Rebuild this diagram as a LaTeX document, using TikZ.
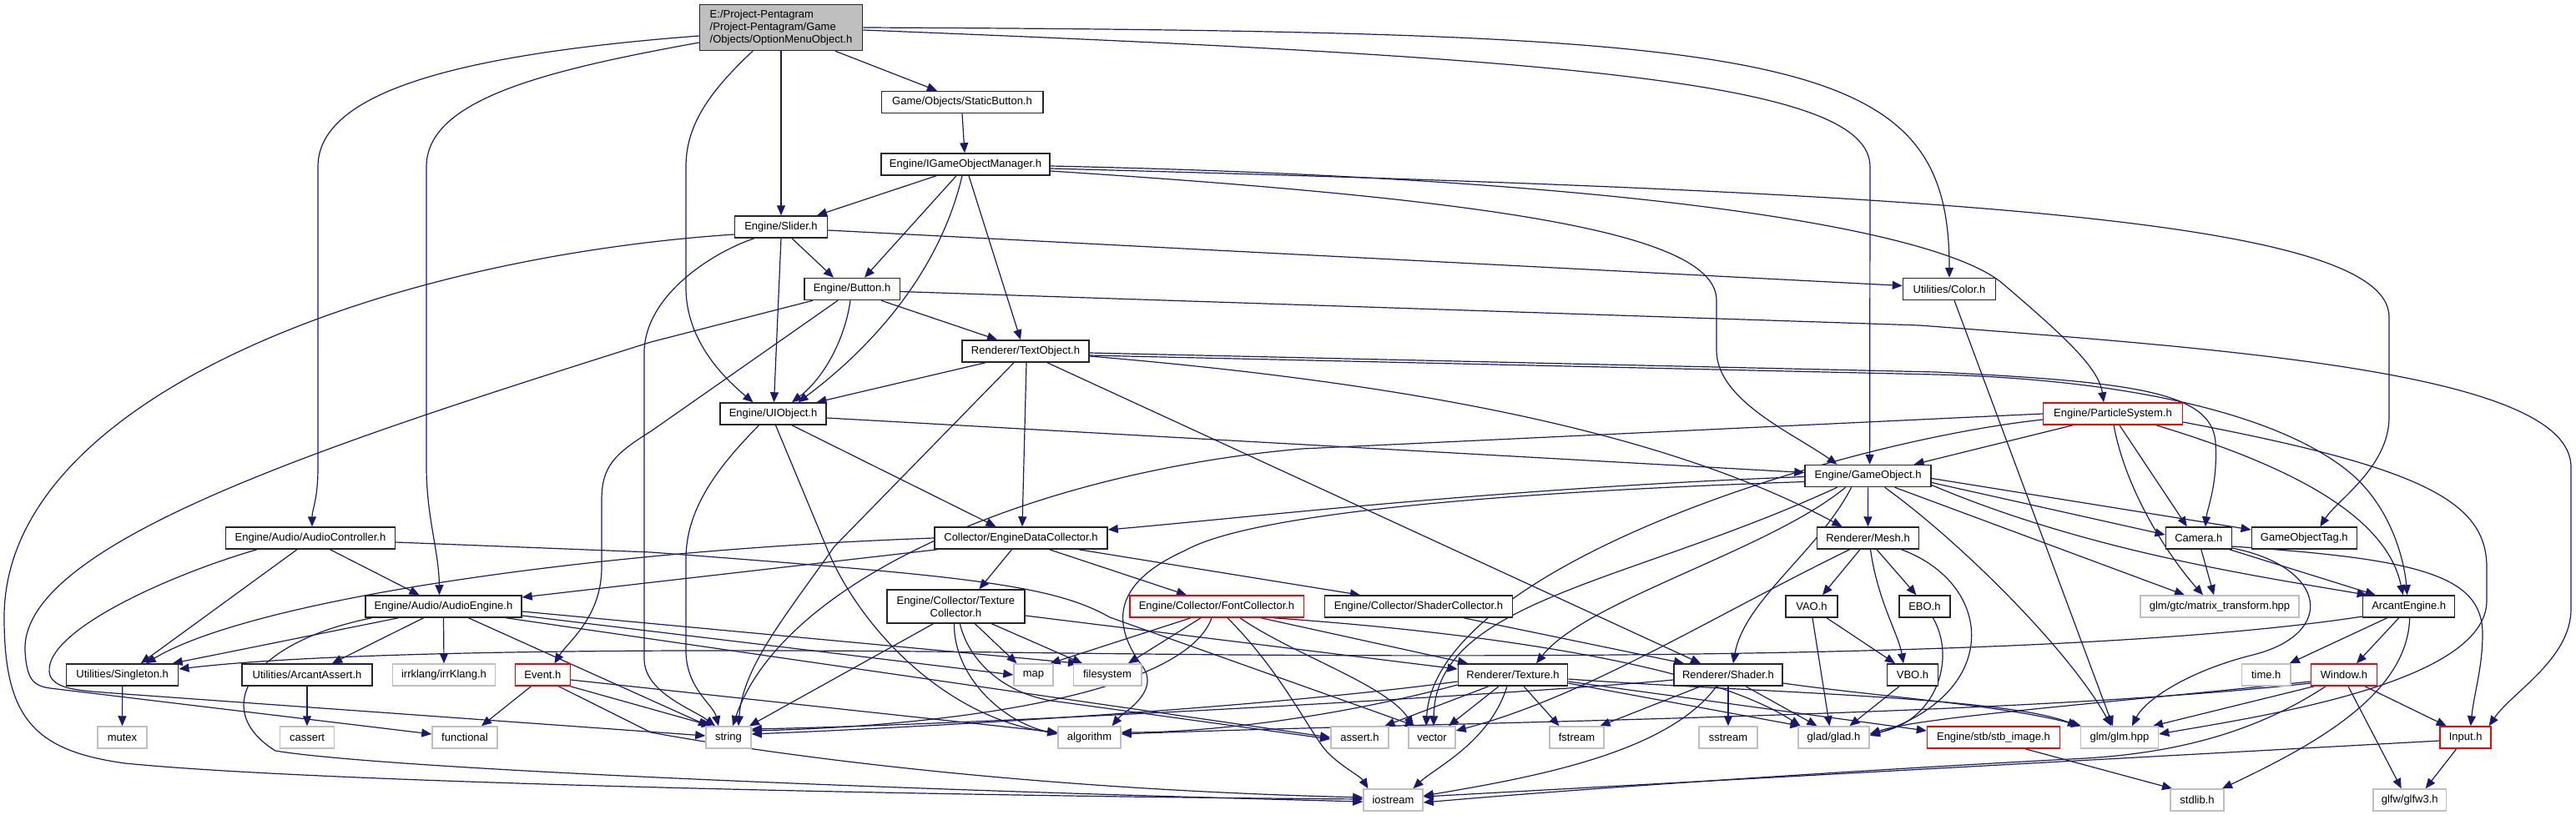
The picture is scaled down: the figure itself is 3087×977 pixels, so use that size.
\documentclass[tikz,border=0pt]{standalone}
\usepackage{fontspec}
\setmainfont{Liberation Sans}
\usetikzlibrary{arrows.meta}
\definecolor{ecol}{HTML}{191970}
\definecolor{gline}{HTML}{BFBFBF}
\definecolor{rootgray}{HTML}{BFBFBF}
\newcommand{\nfont}{\fontsize{13}{14.7}\selectfont}
\pgfdeclarelayer{back}
\pgfdeclarelayer{bg}
\pgfsetlayers{back,bg,main}
\tikzset{
  nb/.style={draw=black!85, line width=1.5pt, fill=white, minimum height=26pt, inner xsep=10pt, inner ysep=0pt, font=\nfont, text=black},
  gb/.style={nb, draw=gline},
  rb/.style={nb, draw=red},
  e/.style={draw=ecol, line width=1.2pt, -{Triangle[length=12pt,width=10pt]}},
}
\begin{document}
\begin{tikzpicture}[x=1pt,y=-1pt]
\begin{pgfonlayer}{back}
\fill[white] (0,0) rectangle (3087,977);
\end{pgfonlayer}
\useasboundingbox (0,0) rectangle (3087,977);
% nodes
\node[nb, fill=rootgray, align=left, minimum width=195, minimum height=55] (R) at (936,33) {E:/Project-Pentagram\\/Project-Pentagram/Game\\/Objects/OptionMenuObject.h};
\node[nb, minimum width=193.5] (SB) at (1153,122.5) {Game/Objects/StaticButton.h};
\node[nb, minimum width=202] (IGOM) at (1157,197) {Engine/IGameObjectManager.h};
\node[nb, minimum width=111] (SL) at (936,272) {Engine/Slider.h};
\node[nb, minimum width=114.5] (BT) at (1021,346.5) {Engine/Button.h};
\node[nb, minimum width=152] (TO) at (1229,421) {Renderer/TextObject.h};
\node[nb, minimum width=127] (UI) at (926.5,496) {Engine/UIObject.h};
\node[nb, minimum width=207] (EDC) at (1223.5,645) {Collector/EngineDataCollector.h};
\node[nb, minimum width=203] (AC) at (372,645) {Engine/Audio/AudioController.h};
\node[nb, minimum width=187] (AE) at (531.5,727) {Engine/Audio/AudioEngine.h};
\node[nb, minimum width=134] (SG) at (146.7,809) {Utilities/Singleton.h};
\node[nb, minimum width=156] (AA) at (368,809) {Utilities/ArcantAssert.h};
\node[gb, minimum width=123] (IK) at (532,809) {irrklang/irrKlang.h};
\node[rb, minimum width=66] (EV) at (650.4,809) {Event.h};
\node[gb, minimum width=59] (MU) at (146.5,884) {mutex};
\node[gb, minimum width=65] (CA) at (368,884) {cassert};
\node[gb, minimum width=78] (FN) at (557,884) {functional};
\node[nb, align=center, minimum width=165, minimum height=40] (TC) at (1145.4,727) {Engine/Collector/Texture\\Collector.h};
\node[rb, minimum width=208.5] (FC) at (1458,727) {Engine/Collector/FontCollector.h};
\node[gb, minimum width=47] (MP) at (1238.5,809) {map};
\node[gb, minimum width=81.5] (FS) at (1327,809) {filesystem};
\node[gb, minimum width=54] (ST) at (873,884) {string};
\node[gb, minimum width=75] (AL) at (1305.5,884) {algorithm};
\node[nb, minimum width=225] (SC) at (1700,727) {Engine/Collector/ShaderCollector.h};
\node[nb, minimum width=131] (TX) at (1813,809) {Renderer/Texture.h};
\node[nb, minimum width=130] (SH) at (2071,809) {Renderer/Shader.h};
\node[nb, minimum width=62] (VAO) at (2171,727) {VAO.h};
\node[nb, minimum width=61] (EBO) at (2306.4,727) {EBO.h};
\node[nb, minimum width=61] (VBO) at (2292,809) {VBO.h};
\node[gb, minimum width=69] (AS) at (1629.4,884) {assert.h};
\node[gb, minimum width=56] (VC) at (1716,884) {vector};
\node[gb, minimum width=65] (FST) at (1889.5,884) {fstream};
\node[gb, minimum width=70] (SST) at (2071,884) {sstream};
\node[gb, minimum width=85] (GL) at (2197.5,884) {glad/glad.h};
\node[rb, minimum width=159] (STB) at (2389,884) {Engine/stb/stb\_image.h};
\node[gb, minimum width=71] (IO) at (1669.5,959) {iostream};
\node[gb, minimum width=190] (MT) at (2660,727) {glm/gtc/matrix\_transform.hpp};
\node[nb, minimum width=110] (AEN) at (2886.7,727) {ArcantEngine.h};
\node[gb, minimum width=58.6] (TM) at (2715.7,809) {time.h};
\node[rb, minimum width=79] (WN) at (2809,809) {Window.h};
\node[gb, minimum width=93] (GLM) at (2540,884) {glm/glm.hpp};
\node[rb, minimum width=61] (IN) at (2954.7,884) {Input.h};
\node[gb, minimum width=64] (SL2) at (2633,959) {stdlib.h};
\node[gb, minimum width=87.5] (GF) at (2887.7,959) {glfw/glfw3.h};
\node[nb, minimum width=111] (CO) at (2336,346.5) {Utilities/Color.h};
\node[rb, minimum width=167] (PS) at (2532,496) {Engine/ParticleSystem.h};
\node[nb, minimum width=79] (CM) at (2634.8,645) {Camera.h};
\node[nb, minimum width=126] (GT) at (2761.3,645) {GameObjectTag.h};
\node[nb, minimum width=151] (GO) at (2238.6,570.5) {Engine/GameObject.h};
\node[nb, minimum width=122] (ME) at (2238.5,645) {Renderer/Mesh.h};
\begin{pgfonlayer}{bg}
% root
\draw[e] ([xshift=65]R.south) -- ([xshift=-30]SB.north);
\draw[e] (R.south) -- (SL.north);
\draw[e] ([xshift=-34]R.south) .. controls (850,110) and (822,150) .. (822,200) -- (822,345) .. controls (822,410) and (870,455) .. ([xshift=-24]UI.north);
\draw[e] ([yshift=-10]R.west) .. controls (550,65) and (381,110) .. (381,200) -- (381,560) .. controls (381,600) and (374,610) .. ([xshift=2]AC.north);
\draw[e] ([yshift=-18]R.west) .. controls (650,85) and (511,120) .. (511,200) -- (511,560) .. controls (511,620) and (526,660) .. ([xshift=-5]AE.north);
\draw[e] ([yshift=-3]R.east) .. controls (1900,70) and (2241,100) .. (2241,200) -- ([xshift=2]GO.north);
\draw[e] (R.east) .. controls (2150,38) and (2336,60) .. (CO.north);
% static button
\draw[e] (SB.south) -- ([xshift=-1]IGOM.north);
% IGameObjectManager
\draw[e] ([xshift=-35]IGOM.south) -- ([xshift=43]SL.north);
\draw[e] ([xshift=-11]IGOM.south) -- ([xshift=15]BT.north);
\draw[e] ([xshift=-4]IGOM.south) .. controls (1125,330) and (1040,420) .. ([xshift=30]UI.north);
\draw[e] ([xshift=4]IGOM.south) -- ([xshift=-6]TO.north);
\draw[e] ([yshift=-2]IGOM.east) .. controls (2000,215) and (2330,280) .. (2400,340) .. controls (2470,400) and (2515,440) .. ([xshift=-11]PS.north);
\draw[e] ([yshift=-5]IGOM.east) .. controls (2300,230) and (2863,260) .. (2863,380) -- (2863,500) .. controls (2863,560) and (2800,600) .. ([xshift=19]GT.north);
\draw[e] ([yshift=-8]IGOM.east) .. controls (1800,240) and (2057,280) .. (2057,360) -- (2057,420) .. controls (2057,480) and (2150,520) .. ([xshift=-37]GO.north);
% Slider
\draw[e] ([xshift=13]SL.south) -- ([xshift=-22]BT.north);
\draw[e] (SL.south) -- ([xshift=1]UI.north);
\draw[e] ([xshift=-32]SL.south) .. controls (860,300) and (775,350) .. (772,420) -- (772,790) .. controls (772,830) and (830,850) .. ([xshift=-16]ST.north);
\draw[e] ([yshift=-9]SL.west) .. controls (450,310) and (5,480) .. (5,740) .. controls (5,860) and (40,900) .. (150,915) .. controls (400,940) and (1200,955) .. ([yshift=1]IO.west);
\draw[e] ([yshift=-4]SL.east) -- ([yshift=4]CO.west);
% Button
\draw[e] ([xshift=35]BT.south) -- ([xshift=-34]TO.north);
\draw[e] ([xshift=-2]BT.south) .. controls (1012,410) and (985,455) .. ([xshift=22.5]UI.north);
\draw[e] ([xshift=-17]BT.south) -- (780,517) .. controls (735,545) and (721,560) .. (721,600) -- (721,680) .. controls (721,740) and (680,770) .. ([xshift=14]EV.north);
\draw[e] ([xshift=-47]BT.south) -- (780,410) .. controls (400,530) and (25,650) .. (30,780) .. controls (32,815) and (40,822) .. (60,825) -- ([yshift=4]FN.west);
\draw[e] ([yshift=-3]BT.east) -- (2300,390) .. controls (2700,420) and (3081,450) .. (3081,560) -- (3081,730) .. controls (3081,790) and (3010,830) .. ([xshift=28]IN.north);
% TextObject
\draw[e] ([xshift=-48]TO.south) -- ([xshift=52]UI.north);
\draw[e] ([xshift=-14]TO.south) -- (1000,655) .. controls (940,740) and (890,800) .. ([xshift=12]ST.north);
\draw[e] ([xshift=1]TO.south) -- ([xshift=1.5]EDC.north);
\draw[e] ([xshift=26]TO.south) -- ([xshift=-33]SH.north);
\draw[e] ([yshift=-2]TO.east) -- (2320,446) .. controls (2560,458) and (2650,470) .. (2655,530) .. controls (2658,580) and (2645,610) .. ([xshift=8]CM.north);
\draw[e] ([yshift=-5]TO.east) -- (2320,449) .. controls (2560,455) and (2740,500) .. (2820,570) .. controls (2870,615) and (2882,680) .. ([xshift=-2]AEN.north);
\draw[e] ([yshift=-6]TO.east) .. controls (1700,460) and (2000,520) .. ([xshift=-31]ME.north);
% UIObject
\draw[e] ([yshift=-5]UI.east) -- ([yshift=4]GO.west);
\draw[e] ([xshift=22.5]UI.south) -- ([xshift=-30]EDC.north);
\draw[e] ([xshift=-17]UI.south) .. controls (860,560) and (822,610) .. (822,670) -- (822,780) .. controls (822,825) and (855,845) .. ([xshift=-12]ST.north);
\draw[e] ([xshift=3]UI.south) -- (992,660) .. controls (1030,750) and (1130,860) .. ([yshift=5]AL.west);
% EngineDataCollector
\draw[e] (EDC.west) .. controls (700,660) and (300,720) .. ([xshift=28]SG.north);
\draw[e] ([xshift=-100]EDC.south) -- ([yshift=11]AE.east);
\draw[e] ([xshift=-11]EDC.south) -- ([xshift=28]TC.north);
\draw[e] ([xshift=34]EDC.south) -- ([xshift=-36]FC.north);
\draw[e] ([xshift=69]EDC.south) -- ([xshift=-70]SC.north);
% AudioController
\draw[e] ([xshift=23.5]AC.south) -- ([xshift=-29]AE.north);
\draw[e] ([xshift=-16]AC.south) -- ([xshift=22]SG.north);
\draw[e] ([xshift=-64]AC.south) .. controls (200,690) and (45,760) .. (60,810) .. controls (68,828) and (100,828) .. (150,832) -- ([yshift=2]ST.west);
\draw[e] ([yshift=-5]AC.east) -- (780,662) .. controls (1150,690) and (1260,700) .. (1330,740) -- ([xshift=-20]VC.north);
% AudioEngine
\draw[e] ([xshift=-54]AE.south) -- ([xshift=60]SG.north);
\draw[e] ([xshift=-86]AE.south) .. controls (300,770) and (250,850) .. (330,900) .. controls (450,920) and (1000,945) .. ([yshift=-2]IO.west);
\draw[e] ([xshift=-24]AE.south) -- ([xshift=30]AA.north);
\draw[e] (AE.south) -- (IK.north);
\draw[e] ([xshift=30]AE.south) -- ([xshift=-24]ST.north);
\draw[e] ([yshift=-6]AE.east) -- ([xshift=-35]FS.north);
\draw[e] ([yshift=-11]AE.east) -- (MP.west);
\draw[e] ([xshift=75]AE.south) -- (AS.west);
% Singleton / ArcantAssert
\draw[e] (SG.south) -- (MU.north);
\draw[e] (AA.south) -- (CA.north);
% Event
\draw[e] ([xshift=-14]EV.south) -- ([xshift=20]FN.north);
\draw[e] ([yshift=-6]EV.east) -- ([yshift=6]AL.west);
\draw[e] ([xshift=33]EV.south) -- ([xshift=-20]ST.north);
\draw[e] ([xshift=19]EV.south) -- (780,878) .. controls (900,900) and (1200,945) .. ([yshift=3]IO.west);
% TextureCollector
\draw[e] ([xshift=-27]TC.south) -- ([xshift=25]ST.north);
\draw[e] ([xshift=-2]TC.south) .. controls (1143,810) and (1200,865) .. ([yshift=4]AL.west);
\draw[e] ([xshift=5]TC.south) .. controls (1160,790) and (1200,830) .. (1260,840) -- ([yshift=-2]AS.west);
\draw[e] ([xshift=23]TC.south) -- ([xshift=-20]MP.north);
\draw[e] ([xshift=43]TC.south) -- ([xshift=-30]FS.north);
\draw[e] ([yshift=-11]TC.east) -- ([yshift=7]TX.west);
% FontCollector
\draw[e] ([xshift=-31]FC.south) -- ([xshift=20]MP.north);
\draw[e] ([xshift=-19]FC.south) -- ([xshift=25]FS.north);
\draw[e] ([xshift=-6]FC.south) .. controls (1420,830) and (1150,870) .. ([yshift=8]ST.east);
\draw[e] ([xshift=13]FC.south) .. controls (1530,800) and (1560,860) .. (1585,895) .. controls (1600,915) and (1630,930) .. ([xshift=-30]IO.north);
\draw[e] ([xshift=28]FC.south) .. controls (1550,785) and (1660,820) .. ([xshift=-22]VC.north);
\draw[e] ([xshift=53]FC.south) -- ([xshift=-54]TX.north);
\draw[e] ([xshift=68]FC.south) .. controls (1800,760) and (2050,800) .. ([xshift=-40]GL.north);
% ShaderCollector
\draw[e] ([xshift=54]SC.south) -- ([xshift=-53]SH.north);
% Texture
\draw[e] ([xshift=-29]TX.south) -- ([xshift=30]AS.north);
\draw[e] ([xshift=-17]TX.south) -- ([xshift=20]VC.north);
\draw[e] ([xshift=-7]TX.south) .. controls (1785,890) and (1720,920) .. ([xshift=24]IO.north);
\draw[e] ([xshift=13]TX.south) -- ([xshift=-21]FST.north);
\draw[e] ([yshift=-10]TX.east) -- ([xshift=-40]GL.north);
\draw[e] ([yshift=-8]TX.east) -- ([yshift=8]STB.west);
\draw[e] ([yshift=-5]TX.east) .. controls (2100,830) and (2400,835) .. ([xshift=-50]GLM.north);
\draw[e] ([yshift=-8]TX.west) .. controls (1500,850) and (1100,872) .. ([yshift=4]ST.east);
\draw[e] ([yshift=-12]TX.west) .. controls (1600,860) and (1450,878) .. ([yshift=6]AL.east);
% Shader
\draw[e] ([xshift=-33]SH.south) -- ([xshift=28]FST.north);
\draw[e] ([xshift=-14]SH.south) .. controls (2000,900) and (1850,930) .. ([yshift=5]IO.east);
\draw[e] (SH.south) -- (SST.north);
\draw[e] ([xshift=21]SH.south) -- ([xshift=-20]GL.north);
\draw[e] ([yshift=-10]SH.east) .. controls (2250,835) and (2400,845) .. ([xshift=-46]GLM.north);
\draw[e] ([yshift=-6]SH.west) .. controls (1850,830) and (1200,868) .. ([yshift=10]ST.east);
% Mesh
\draw[e] ([xshift=-22]ME.south) .. controls (2050,740) and (1900,835) .. ([yshift=8]VC.east);
\draw[e] ([xshift=-9.5]ME.south) -- ([xshift=13]VAO.north);
\draw[e] ([xshift=3]ME.south) .. controls (2250,720) and (2275,760) .. ([xshift=-11]VBO.north);
\draw[e] ([xshift=10.5]ME.south) -- ([xshift=-10]EBO.north);
\draw[e] ([xshift=40]ME.south) .. controls (2390,700) and (2400,830) .. ([yshift=2]GL.east);
% VAO EBO VBO
\draw[e] ([xshift=18]VAO.south) -- ([xshift=-21]VBO.north);
\draw[e] ([xshift=1]VAO.south) -- ([xshift=-5]GL.north);
\draw[e] ([xshift=10]EBO.south) .. controls (2345,790) and (2320,865) .. ([yshift=4]GL.east);
\draw[e] ([xshift=-16]VBO.south) -- ([xshift=19]GL.north);
% GameObject
\draw[e] ([yshift=-1]GO.west) .. controls (1800,585) and (1500,620) .. ([yshift=10]EDC.east);
\draw[e] ([yshift=-7]GO.west) .. controls (1800,590) and (1500,615) .. (1420,660) .. controls (1320,705) and (1340,760) .. (1370,800) .. controls (1390,830) and (1345,855) .. ([xshift=27]AL.north);
\draw[e] ([xshift=-37]GO.south) .. controls (1950,700) and (1720,720) .. ([xshift=2]VC.north);
\draw[e] ([xshift=-27]GO.south) .. controls (2120,660) and (1900,720) .. ([xshift=28]TX.north);
\draw[e] ([xshift=-20]GO.south) .. controls (2180,660) and (2090,720) .. ([xshift=6]SH.north);
\draw[e] (GO.south) -- (ME.north);
\draw[e] ([xshift=20]GO.south) .. controls (2350,650) and (2480,780) .. ([xshift=-10]GLM.north);
\draw[e] ([xshift=32]GO.south) -- ([xshift=-42]MT.north);
\draw[e] ([yshift=-3]GO.east) -- ([yshift=10]GT.west);
\draw[e] ([yshift=-8]GO.east) -- ([yshift=4]CM.west);
\draw[e] ([yshift=-11]GO.east) .. controls (2500,660) and (2700,690) .. ([xshift=-50]AEN.north);
% ParticleSystem
\draw[e] (PS.west) -- (1560,538) .. controls (1250,565) and (940,690) .. ([xshift=5]ST.north);
\draw[e] ([yshift=-7]PS.west) .. controls (2200,530) and (1720,680) .. ([xshift=-7]VC.north);
\draw[e] ([xshift=-48]PS.south) -- ([xshift=55]GO.north);
\draw[e] ([xshift=8]PS.south) -- ([xshift=-14]CM.north);
\draw[e] ([xshift=1]PS.south) .. controls (2550,600) and (2610,680) .. ([xshift=-20]MT.north);
\draw[e] ([xshift=52]PS.south) .. controls (2750,560) and (2860,620) .. ([xshift=-7]AEN.north);
\draw[e] ([yshift=-10]PS.east) .. controls (2900,560) and (2980,600) .. (2980,680) -- (2980,720) .. controls (2980,820) and (2700,860) .. ([yshift=4]GLM.east);
% Camera
\draw[e] ([xshift=3]CM.south) -- ([xshift=-7]MT.north);
\draw[e] ([xshift=37]CM.south) -- ([xshift=-40]AEN.north);
\draw[e] ([yshift=-10]CM.east) .. controls (2900,670) and (2975,690) .. (2975,760) .. controls (2975,800) and (2965,830) .. ([xshift=6]IN.north);
\draw[e] ([yshift=-12]CM.east) .. controls (2790,680) and (2800,760) .. (2700,785) .. controls (2620,805) and (2570,840) .. ([xshift=15]GLM.north);
% ArcantEngine
\draw[e] ([yshift=-12]AEN.west) .. controls (2500,790) and (1800,790) .. (1200,782) .. controls (800,777) and (400,780) .. ([yshift=7]SG.east);
\draw[e] ([xshift=-26]AEN.south) -- ([xshift=28]TM.north);
\draw[e] ([xshift=-12]AEN.south) -- ([xshift=15]WN.north);
\draw[e] ([xshift=1]AEN.south) .. controls (2885,830) and (2780,890) .. ([xshift=30]SL2.north);
% Window
\draw[e] ([xshift=25]WN.south) -- ([xshift=-23]IN.north);
\draw[e] ([xshift=5]WN.south) -- ([xshift=-10]GF.north);
\draw[e] ([xshift=-36]WN.south) -- ([xshift=40]GLM.north);
\draw[e] ([xshift=-22]WN.south) .. controls (2700,880) and (2600,905) .. (2480,910) .. controls (2200,925) and (1900,945) .. ([yshift=-3]IO.east);
\draw[e] ([yshift=-10]WN.west) .. controls (2400,860) and (1700,866) .. ([yshift=4]AL.east);
\draw[e] ([yshift=-8]WN.west) .. controls (2500,845) and (2300,860) .. ([yshift=4]GL.east);
% Input
\draw[e] ([yshift=-4]IN.west) -- ([yshift=4]IO.east);
\draw[e] ([xshift=-11]IN.south) -- ([xshift=19]GF.north);
% misc
\draw[e] ([xshift=38]STB.south) -- ([xshift=-30]SL2.north);
\draw[e] ([xshift=6]CO.south) -- ([xshift=-8]GLM.north);
\end{pgfonlayer}
\end{tikzpicture}
\end{document}
